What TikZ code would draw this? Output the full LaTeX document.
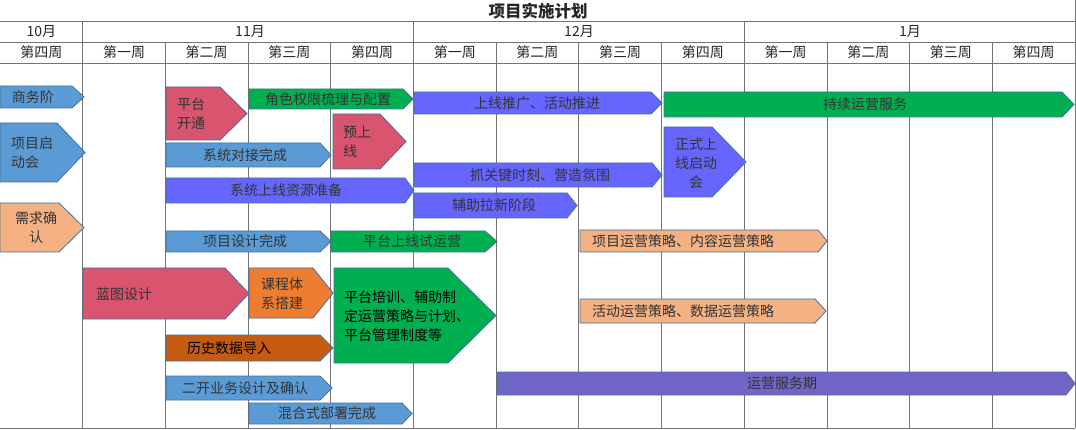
\documentclass[tikz,border=0pt]{standalone}
\usepackage{fontspec}
\setmainfont{Noto Sans CJK SC}
\definecolor{cblue}{HTML}{5B9BD5}
\definecolor{cred}{HTML}{D9546E}
\definecolor{cgreen}{HTML}{00B050}
\definecolor{cviolet}{HTML}{6666FF}
\definecolor{cslate}{HTML}{6F66C8}
\definecolor{cpeach}{HTML}{F4B183}
\definecolor{corange}{HTML}{ED7D31}
\definecolor{crust}{HTML}{C55A11}
\definecolor{cedge}{HTML}{41719C}
\begin{document}
\begin{tikzpicture}[x=1pt, y=-1pt,
  bar/.style={draw=cedge, line width=0.8pt},
  lbl/.style={inner sep=0pt, text=black!80, font=\fontsize{14}{19}\selectfont},
  hd/.style={inner sep=0pt, text=black!85, font=\fontsize{14}{16}\selectfont},
  gline/.style={draw=black!55, line width=0.8pt}]
  \useasboundingbox (0,0) rectangle (1076,430);
  % grid
  \draw[gline] (0,21) -- (1075,21) (0,42) -- (1075,42) (0,63) -- (1075,63) (0,428) -- (1075,428);
  \draw[gline] (1075,0) -- (1075,428);
  \foreach \i in {1,5,9} \draw[gline] (\i*82.69,21) -- (\i*82.69,428);
  \foreach \i in {2,3,4,6,7,8,10,11,12} \draw[gline] (\i*82.69,42) -- (\i*82.69,428);
  % header
  \node[hd, font=\bfseries\fontsize{16.5}{17}\selectfont] (title) at (538,11) {项目实施计划};
  \node[hd] (m10) at (41.3,31.5) {10月};
  \node[hd] (m11) at (250,31.5) {11月};
  \node[hd] (m12) at (579,31.5) {12月};
  \node[hd] (m1) at (910,31.5) {1月};
  \foreach \w [count=\i from 0] in {第四周,第一周,第二周,第三周,第四周,第一周,第二周,第三周,第四周,第一周,第二周,第三周,第四周}
    \node[hd] (w\i) at ({(\i+0.5)*82.69},52.5) {\w};

  % left column
  \draw[bar, fill=cblue] (0,86) -- (72,86) -- (84,97) -- (72,108) -- (0,108) -- cycle;
  \node[lbl] (swj) at (33,97) {商务阶};
  \draw[bar, fill=cblue] (0,123) -- (57,123) -- (85,152.5) -- (57,182) -- (0,182) -- cycle;
  \node[lbl, align=left, anchor=west] (qdh) at (11,152.5) {项目启\\动会};
  \draw[bar, fill=cpeach] (0,203) -- (59,203) -- (84,227.5) -- (59,252) -- (0,252) -- cycle;
  \node[lbl, align=center] (xqqr) at (36,228) {需求确\\认};
  \draw[bar, fill=cred] (83,268) -- (225,268) -- (249,293.5) -- (225,319) -- (83,319) -- cycle;
  \node[lbl] (ltsj) at (124,294) {蓝图设计};

  % 11月
  \draw[bar, fill=cred] (166,87) -- (220,87) -- (247,113.5) -- (220,140) -- (166,140) -- cycle;
  \node[lbl, align=left, anchor=west] (ptkt) at (177,114) {平台\\开通};
  \draw[bar, fill=cgreen] (249,89) -- (403,89) -- (413,99) -- (403,109) -- (249,109) -- cycle;
  \node[lbl] (jsqx) at (328,99) {角色权限梳理与配置};
  \draw[bar, fill=cred] (333,114) -- (380,114) -- (406,141.5) -- (380,169) -- (333,169) -- cycle;
  \node[lbl, align=left, anchor=west] (ysx) at (343,142) {预上\\线};
  \draw[bar, fill=cblue] (166,143) -- (320,143) -- (331,155) -- (320,167) -- (166,167) -- cycle;
  \node[lbl] (xtdj) at (245,155) {系统对接完成};
  \draw[bar, fill=cviolet] (166,178) -- (405,178) -- (414,190.5) -- (405,203) -- (166,203) -- cycle;
  \node[lbl] (xtzy) at (286,190.5) {系统上线资源准备};
  \draw[bar, fill=cblue] (166,231) -- (320,231) -- (331,241.5) -- (320,252) -- (166,252) -- cycle;
  \node[lbl] (xmsj) at (245,241.5) {项目设计完成};
  \draw[bar, fill=cgreen] (331,231) -- (485,231) -- (497,241.5) -- (485,252) -- (331,252) -- cycle;
  \node[lbl] (ptsy) at (412,241.5) {平台上线试运营};
  \draw[bar, fill=corange] (249,268) -- (313,268) -- (333,293) -- (313,318) -- (249,318) -- cycle;
  \node[lbl, align=center] (kctx) at (282,294) {课程体\\系搭建};
  \draw[bar, fill=cgreen] (334,268) -- (448,268) -- (496,315.5) -- (448,363) -- (334,363) -- cycle;
  \node[lbl, align=left, anchor=west, text=black] (ptpx) at (344,316) {平台培训、辅助制\\定运营策略与计划、\\平台管理制度等};
  \draw[bar, fill=crust] (166,335) -- (320,335) -- (333,348) -- (320,361) -- (166,361) -- cycle;
  \node[lbl, text=black] (lssj) at (229,348) {历史数据导入};
  \draw[bar, fill=cblue] (166,376) -- (320,376) -- (332,388) -- (320,400) -- (166,400) -- cycle;
  \node[lbl] (ekyw) at (245,388) {二开业务设计及确认};
  \draw[bar, fill=cblue] (249,403) -- (402,403) -- (412,413.5) -- (402,424) -- (249,424) -- cycle;
  \node[lbl] (hhbs) at (327,413.5) {混合式部署完成};

  % 12月 / 1月
  \draw[bar, fill=cviolet] (414,92) -- (651,92) -- (662,103) -- (651,114) -- (414,114) -- cycle;
  \node[lbl] (sxtg) at (537,103) {上线推广、活动推进};
  \draw[bar, fill=cgreen] (664,92) -- (1062,92) -- (1074,104.5) -- (1062,117) -- (664,117) -- cycle;
  \node[lbl] (cxyy) at (865,104.5) {持续运营服务};
  \draw[bar, fill=cviolet] (664,127) -- (712,127) -- (746,162) -- (712,197) -- (664,197) -- cycle;
  \node[lbl, align=center] (zssx) at (696,163) {正式上\\线启动\\会};
  \draw[bar, fill=cviolet] (414,163) -- (652,163) -- (662,175) -- (652,187) -- (414,187) -- cycle;
  \node[lbl] (zgj) at (540,175) {抓关键时刻、营造氛围};
  \draw[bar, fill=cviolet] (414,193) -- (567,193) -- (577,205.5) -- (567,218) -- (414,218) -- cycle;
  \node[lbl] (fzlx) at (494,205.5) {辅助拉新阶段};
  \draw[bar, fill=cpeach] (580,230) -- (818,230) -- (827,241) -- (818,252) -- (580,252) -- cycle;
  \node[lbl] (xmyy) at (683,241) {项目运营策略、内容运营策略};
  \draw[bar, fill=cpeach] (580,299) -- (815,299) -- (826,311) -- (815,323) -- (580,323) -- cycle;
  \node[lbl] (hdyy) at (683,311) {活动运营策略、数据运营策略};
  \draw[bar, fill=cslate] (497,372) -- (1066,372) -- (1075,383.5) -- (1066,395) -- (497,395) -- cycle;
  \node[lbl] (yyfw) at (782,383.5) {运营服务期};
\end{tikzpicture}
\end{document}
